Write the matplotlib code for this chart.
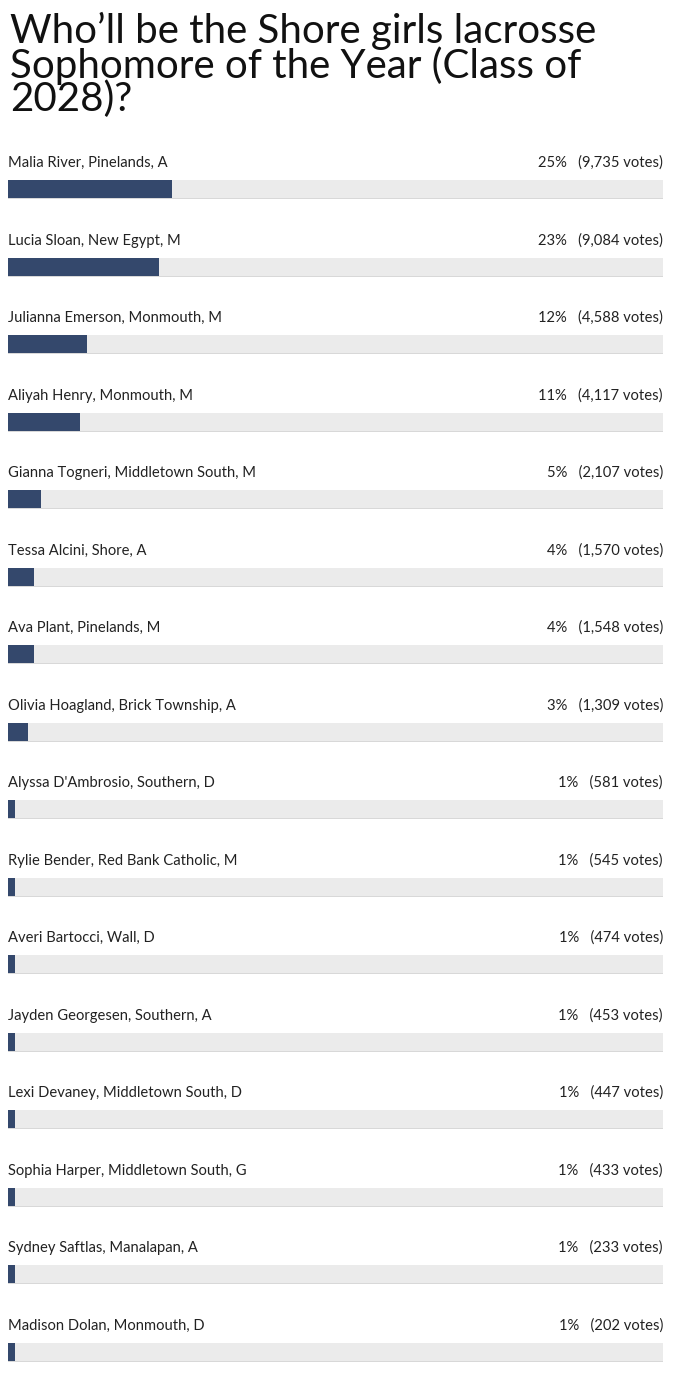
import matplotlib
matplotlib.use("Agg")
import matplotlib.pyplot as plt

title = "Who\u2019ll be the Shore girls lacrosse\nSophomore of the Year (Class of\n2028)?"
names = [
    "Malia River, Pinelands, A",
    "Lucia Sloan, New Egypt, M",
    "Julianna Emerson, Monmouth, M",
    "Aliyah Henry, Monmouth, M",
    "Gianna Togneri, Middletown South, M",
    "Tessa Alcini, Shore, A",
    "Ava Plant, Pinelands, M",
    "Olivia Hoagland, Brick Township, A",
    "Alyssa D'Ambrosio, Southern, D",
    "Rylie Bender, Red Bank Catholic, M",
    "Averi Bartocci, Wall, D",
    "Jayden Georgesen, Southern, A",
    "Lexi Devaney, Middletown South, D",
    "Sophia Harper, Middletown South, G",
    "Sydney Saftlas, Manalapan, A",
    "Madison Dolan, Monmouth, D",
]
percents = [25, 23, 12, 11, 5, 4, 4, 3, 1, 1, 1, 1, 1, 1, 1, 1]
votes = [9735, 9084, 4588, 4117, 2107, 1570, 1548, 1309, 581, 545, 474, 453, 447, 433, 233, 202]

W, H = 680, 1388
fig = plt.figure(figsize=(W / 100, H / 100), dpi=100)
ax = fig.add_axes([0, 0, 1, 1])
ax.set_xlim(0, W)
ax.set_ylim(H, 0)
ax.axis("off")

FONT = "Lato"
x0, x1 = 8, 663
track_w = x1 - x0
label_y0, bar_y0, step, bar_h = 163, 189, 77.5, 18
navy = "#34486c"
track = "#ebebeb"
txt = "#222222"

ax.text(10, 12, title, fontsize=29, family=FONT, color="#111111",
        va="top", ha="left", linespacing=0.87)

n = len(names)
ys = [bar_y0 + step * i for i in range(n)]
# subtle shadow under track
ax.barh([y + 1.2 for y in ys], [track_w] * n, left=x0, height=bar_h,
        color="#d8d8d8", zorder=1)
ax.barh(ys, [track_w] * n, left=x0, height=bar_h, color=track, zorder=2)
ax.barh(ys, [p / 100 * track_w for p in percents], left=x0, height=bar_h,
        color=navy, zorder=3)

for i, (nm, p, v) in enumerate(zip(names, percents, votes)):
    ly = label_y0 + step * i
    ax.text(x0, ly, nm, fontsize=10.6, family=FONT, color=txt, va="center", ha="left")
    ax.text(x1, ly, f"{p}%   ({v:,} votes)", fontsize=10.6, family=FONT, color=txt,
            va="center", ha="right")

fig.savefig("out.png", dpi=100, facecolor="white")
